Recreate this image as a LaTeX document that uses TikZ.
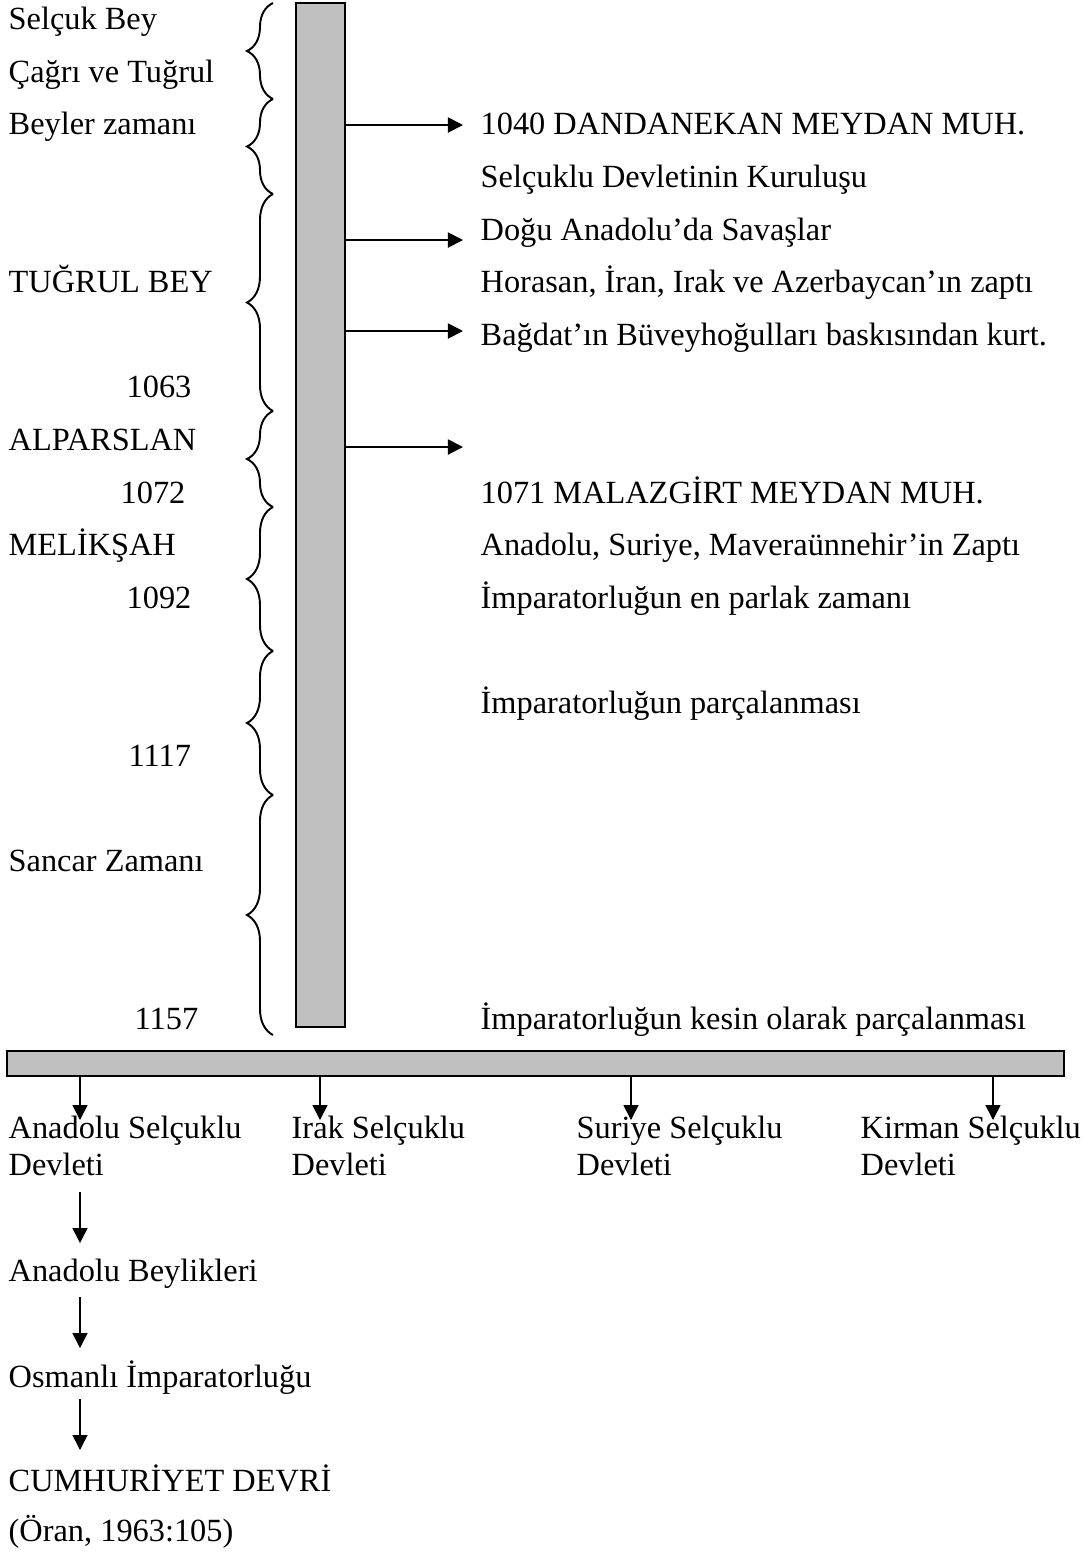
\documentclass[tikz,border=0pt]{standalone}
\usepackage{fontspec}
\setmainfont{Liberation Serif}
\usetikzlibrary{arrows.meta,decorations.pathreplacing}
\definecolor{barfill}{HTML}{C0C0C0}

\tikzset{
  txt/.style={anchor=base west, inner sep=0pt, font=\fontsize{9.2}{11}\selectfont},
  bracket/.style={decorate, decoration={brace, amplitude=0.26cm}, line width=0.55pt},
  arr/.style={-{Triangle[length=1.5mm,width=1.5mm]}, line width=0.55pt},
  darr/.style={-{Triangle[length=1.5mm,width=1.5mm]}, line width=0.45pt},
  bar/.style={draw, fill=barfill, line width=0.5pt, inner sep=0pt}
}

\begin{document}
\begin{tikzpicture}[x=0.01cm, y=-0.01cm]
    \useasboundingbox (0,0) rectangle (1085,1553);

    \node[bar, minimum width=0.49cm, minimum height=10.24cm] (vbar) at (320.5,515) {};
    \node[bar, minimum width=10.57cm, minimum height=0.25cm] (hbar) at (535.5,1063.5) {};

    \draw[bracket] (273,99) -- (273,3);
    \draw[bracket] (273,194) -- (273,99);
    \draw[bracket] (273,411) -- (273,194);
    \draw[bracket] (273,507) -- (273,411);
    \draw[bracket] (273,651) -- (273,507);
    \draw[bracket] (273,795) -- (273,651);
    \draw[bracket] (273,1035) -- (273,795);

    \node[txt] (selcuk)  at (8,29.6)   {Selçuk Bey};
    \node[txt] (cagri)   at (8,82.2)   {Çağrı ve Tuğrul};
    \node[txt] (beyler)  at (8,134.8)  {Beyler zamanı};
    \node[txt] (tugrul)  at (8,292.6)  {TUĞRUL BEY};
    \node[txt] (y1063)   at (126,397.8) {1063};
    \node[txt] (alp)     at (8,450.4)  {ALPARSLAN};
    \node[txt] (y1072)   at (120,503)  {1072};
    \node[txt] (melik)   at (8,555.6)  {MELİKŞAH};
    \node[txt] (y1092)   at (126,608.2) {1092};
    \node[txt] (y1117)   at (128,766)  {1117};
    \node[txt] (sancar)  at (8,871.2)  {Sancar Zamanı};
    \node[txt] (y1157)   at (134,1029) {1157};

    \node[txt] (dandan)  at (480,134.8) {1040 DANDANEKAN MEYDAN MUH.};
    \node[txt] (kurulus) at (480,187.4) {Selçuklu Devletinin Kuruluşu};
    \node[txt] (dogu)    at (480,240)   {Doğu Anadolu’da Savaşlar};
    \node[txt] (horasan) at (480,292.6) {Horasan, İran, Irak ve Azerbaycan’ın zaptı};
    \node[txt] (bagdat)  at (480,345.2) {Bağdat’ın Büveyhoğulları baskısından kurt.};
    \node[txt] (malaz)   at (480,503)   {1071 MALAZGİRT MEYDAN MUH.};
    \node[txt] (zapti)   at (480,555.6) {Anadolu, Suriye, Maveraünnehir’in Zaptı};
    \node[txt] (parlak)  at (480,608.2) {İmparatorluğun en parlak zamanı};
    \node[txt] (parca)   at (480,713.4) {İmparatorluğun parçalanması};
    \node[txt] (kesin)   at (480,1029)  {İmparatorluğun kesin olarak parçalanması};

    \coordinate (a1) at (463,125);
    \coordinate (a2) at (463,240);
    \coordinate (a3) at (463,331);
    \coordinate (a4) at (463,447);
    \draw[arr] (vbar.east |- a1) -- (a1);
    \draw[arr] (vbar.east |- a2) -- (a2);
    \draw[arr] (vbar.east |- a3) -- (a3);
    \draw[arr] (vbar.east |- a4) -- (a4);

    \node[txt] (anadolu)  at (8,1138)   {Anadolu Selçuklu};
    \node[txt] (anadolub) at (8,1175)   {Devleti};
    \node[txt] (irak)     at (291,1138) {Irak Selçuklu};
    \node[txt] (irakb)    at (291,1175) {Devleti};
    \node[txt] (suriye)   at (576,1138) {Suriye Selçuklu};
    \node[txt] (suriyeb)  at (576,1175) {Devleti};
    \node[txt] (kirman)   at (860,1138) {Kirman Selçuklu};
    \node[txt] (kirmanb)  at (860,1175) {Devleti};

    \coordinate (b1) at (80,1120);
    \coordinate (b2) at (320,1120);
    \coordinate (b3) at (631,1120);
    \coordinate (b4) at (993,1120);
    \draw[darr] (hbar.south -| b1) -- (b1);
    \draw[darr] (hbar.south -| b2) -- (b2);
    \draw[darr] (hbar.south -| b3) -- (b3);
    \draw[darr] (hbar.south -| b4) -- (b4);

    \node[txt] (beylik)  at (8,1281) {Anadolu Beylikleri};
    \node[txt] (osmanli) at (8,1387) {Osmanlı İmparatorluğu};
    \node[txt] (cumh)    at (8,1491) {CUMHURİYET DEVRİ};
    \node[txt] (kaynak)  at (8,1541) {(Öran, 1963:105)};

    \coordinate (c1) at (80,1192);
    \coordinate (c2) at (80,1243);
    \coordinate (c3) at (80,1297);
    \coordinate (c4) at (80,1348);
    \coordinate (c5) at (80,1399);
    \coordinate (c6) at (80,1450);
    \draw[darr] (c1) -- (c2);
    \draw[darr] (c3) -- (c4);
    \draw[darr] (c5) -- (c6);
\end{tikzpicture}
\end{document}
